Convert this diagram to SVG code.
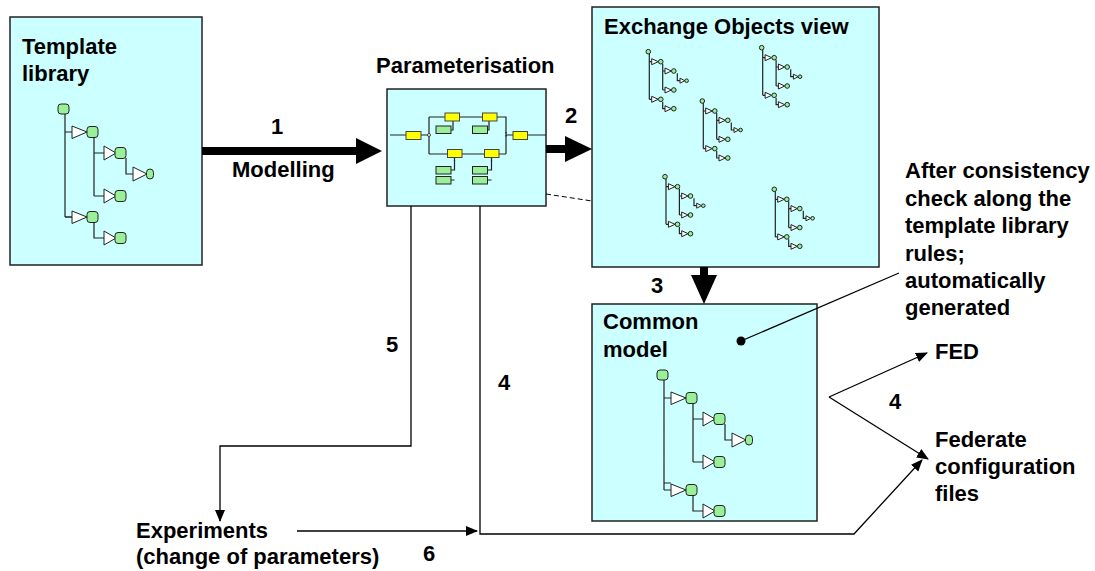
<svg xmlns="http://www.w3.org/2000/svg" xmlns:xlink="http://www.w3.org/1999/xlink" width="1095" height="571" viewBox="0 0 1095 571">
<style>
.box{fill:#CCFFFF;stroke:#222;stroke-width:1.5}
.t{font-family:"Liberation Sans",Arial,sans-serif;font-weight:bold;font-size:22px;fill:#000}
.tc{text-anchor:middle}
.ln{fill:none;stroke:#000;stroke-width:1.3}
.tl{fill:none;stroke:#222;stroke-width:1.2}
.tri{fill:#fff;stroke:#222;stroke-width:1}
.gn{fill:#99F099;stroke:#222;stroke-width:1}
.yl{fill:#FFFF00;stroke:#444;stroke-width:1}
.thick{fill:#000}
</style>
<defs>
<marker id="ah" markerWidth="12" markerHeight="12" refX="11" refY="5" orient="auto" markerUnits="userSpaceOnUse" viewBox="0 0 12 10">
<path d="M0,0 L12,5 L0,10 Z" fill="#000"/>
</marker>
<g id="bigTop">
<rect class="gn" x="0" y="0" width="11" height="10" rx="3"/>
<path class="tl" d="M7,10 V113 M7,28 H14 M36,33 V92 M36,49 H46 M68,54 V70 H75 M36,92 H46 M7,113 H14"/>
<polygon class="tri" points="14,22 14,34.5 29,28"/>
<rect class="gn" x="29" y="22.5" width="11" height="11" rx="3"/>
<polygon class="tri" points="46,42 46,56 58,49"/>
<rect class="gn" x="57" y="43.5" width="11" height="11" rx="3"/>
<polygon class="tri" points="75,63 75,77 89,70"/>
<rect class="gn" x="88.5" y="65" width="7" height="10" rx="3.5"/>
<polygon class="tri" points="46,85 46,99 58,92"/>
<rect class="gn" x="57" y="86.5" width="11" height="11" rx="3"/>
</g>
<g id="bigC2">
<path class="tl" d="M7,0 H14 M36,5.5 V21 H46"/>
<polygon class="tri" points="14,-6 14,6.5 29,0"/>
<rect class="gn" x="29" y="-5.5" width="11" height="11" rx="3"/>
<polygon class="tri" points="46,14 46,28 58,21"/>
<rect class="gn" x="57" y="15.5" width="11" height="11" rx="3"/>
</g>
<g id="small">
<path class="tl" stroke-width="1" d="M1,2 V47.6 M1,10 H3.4 M14.4,12 V38.3 M14.4,19.3 H16.7 M29,21.5 V29 H31.7 M14.4,38.3 H16.7 M1,47.6 H3.4 M14.4,50 V57 H16.7"/>
<circle class="gn" cx="0" cy="0" r="2.3"/>
<polygon class="tri" points="3.4,7 3.4,13 10,10"/>
<circle class="gn" cx="12.5" cy="10" r="2.3"/>
<polygon class="tri" points="16.7,16.3 16.7,22.3 23,19.3"/>
<circle class="gn" cx="25.5" cy="19.3" r="2.3"/>
<polygon class="tri" points="31.7,26.5 31.7,31.5 36.5,29"/>
<circle class="gn" cx="38.3" cy="29" r="1.8"/>
<polygon class="tri" points="16.7,35.3 16.7,41.3 23,38.3"/>
<circle class="gn" cx="25.5" cy="38.3" r="2.3"/>
<polygon class="tri" points="3.4,44.6 3.4,50.6 10,47.6"/>
<circle class="gn" cx="12.5" cy="47.6" r="2.3"/>
<polygon class="tri" points="16.7,54 16.7,60 23,57"/>
<circle class="gn" cx="25.5" cy="57" r="2.3"/>
</g>
</defs>

<g id="template-library">
<rect class="box" x="10" y="17" width="192" height="248"/>
<text class="t" x="22" y="54">Template</text>
<text class="t" x="22" y="81">library</text>
<g transform="translate(58,104)">
<use xlink:href="#bigTop"/>
<use xlink:href="#bigC2" transform="translate(0,113)"/>
</g>
</g>

<g id="parameterisation">
<text class="t" x="376" y="73">Parameterisation</text>
<rect class="box" x="387" y="89" width="159" height="117"/>
<path class="tl" d="M390,135 H406 M421,135 H429 M429,117 V154 M429,117 H445 M459,117 H482 M497,117 H506 V154 M429,154 H447 M462,154 H484 M499,154 H506 M506,135 H513 M527,135 H546"/>
<circle cx="429" cy="135" r="1.5" fill="#fff" stroke="#222" stroke-width="0.8"/>
<path class="tl" stroke-width="1" d="M451,130 H453 V121 M487,130 H489 V121 M451,170 H454.5 V157 M451,180 H454.5 M487,170 H491.5 V157 M487,180 H491.5"/>
<path d="M454.5,157 V163 M491.5,157 V163 M506,132 V138" stroke="#222" stroke-width="1.2" stroke-dasharray="1.5,1.5"/>
<rect class="yl" x="406" y="131.5" width="15" height="8"/>
<rect class="yl" x="445" y="113" width="14.5" height="8"/>
<rect class="yl" x="482.5" y="113" width="14.5" height="8"/>
<rect class="yl" x="447.5" y="149.5" width="14.5" height="8"/>
<rect class="yl" x="484.5" y="149.5" width="14.5" height="8"/>
<rect class="yl" x="513" y="131.5" width="14.5" height="8"/>
<rect class="gn" x="436" y="126" width="15" height="7.5"/>
<rect class="gn" x="472.5" y="126" width="15" height="7.5"/>
<rect class="gn" x="436" y="166.5" width="15" height="7.5"/>
<rect class="gn" x="436" y="176.5" width="15" height="7.5"/>
<rect class="gn" x="472.5" y="166.5" width="15" height="7.5"/>
<rect class="gn" x="472.5" y="176.5" width="15" height="7.5"/>
</g>

<g id="exchange-objects-view">
<rect class="box" x="592" y="7" width="287" height="260"/>
<text class="t" x="604" y="34">Exchange Objects view</text>
<use xlink:href="#small" transform="translate(648.3,51.7)"/>
<use xlink:href="#small" transform="translate(761.7,47.7)"/>
<use xlink:href="#small" transform="translate(702.3,101)"/>
<use xlink:href="#small" transform="translate(665,176.7)"/>
<use xlink:href="#small" transform="translate(774.3,189.3)"/>
</g>

<g id="common-model">
<rect class="box" x="592" y="304" width="225" height="217"/>
<text class="t" x="603" y="329">Common</text>
<text class="t" x="603" y="357">model</text>
<g transform="translate(657,370)">
<use xlink:href="#bigTop"/>
<path class="tl" d="M7,113 V120"/>
<use xlink:href="#bigC2" transform="translate(0,120)"/>
</g>
<circle cx="741" cy="341" r="4.5" fill="#000"/>
</g>

<g id="note">
<text class="t" x="905" y="178">After consistency</text>
<text class="t" x="905" y="206">check along the</text>
<text class="t" x="905" y="233">template library</text>
<text class="t" x="905" y="261">rules;</text>
<text class="t" x="905" y="288">automatically</text>
<text class="t" x="905" y="315">generated</text>
</g>

<g id="fed"><text class="t" x="935" y="359">FED</text></g>
<g id="federate-files">
<text class="t" x="935" y="447">Federate</text>
<text class="t" x="935" y="474">configuration</text>
<text class="t" x="935" y="501">files</text>
</g>
<g id="experiments">
<text class="t" x="136" y="538">Experiments</text>
<text class="t" x="136" y="564">(change of parameters)</text>
</g>

<g id="connectors">
<rect class="thick" x="202" y="147" width="155" height="8"/>
<polygon class="thick" points="356,138 382,151 356,164"/>
<rect class="thick" x="546" y="145" width="20" height="8"/>
<polygon class="thick" points="565,136 592,149 565,162"/>
<rect class="thick" x="700" y="267" width="8" height="9"/>
<polygon class="thick" points="691,275 717,275 704,304"/>
<line x1="546" y1="194" x2="592" y2="201" stroke="#000" stroke-width="1" stroke-dasharray="5,3"/>
<polyline class="ln" points="411,206 411,446 220,446 220,521" marker-end="url(#ah)"/>
<polyline class="ln" points="480,206 480,534 854,534 922,460" marker-end="url(#ah)"/>
<line class="ln" x1="297" y1="531" x2="477" y2="531" marker-end="url(#ah)"/>
<line class="ln" x1="829" y1="397" x2="927" y2="353" marker-end="url(#ah)"/>
<line class="ln" x1="829" y1="397" x2="928" y2="459" marker-end="url(#ah)"/>
<line class="ln" x1="741" y1="341" x2="899" y2="273"/>
<text class="t tc" x="277" y="134">1</text>
<text class="t" x="232" y="177">Modelling</text>
<text class="t tc" x="571" y="123">2</text>
<text class="t tc" x="657" y="293">3</text>
<text class="t tc" x="392" y="352">5</text>
<text class="t tc" x="504" y="390">4</text>
<text class="t tc" x="895" y="409">4</text>
<text class="t tc" x="429" y="561">6</text>
</g>
</svg>
